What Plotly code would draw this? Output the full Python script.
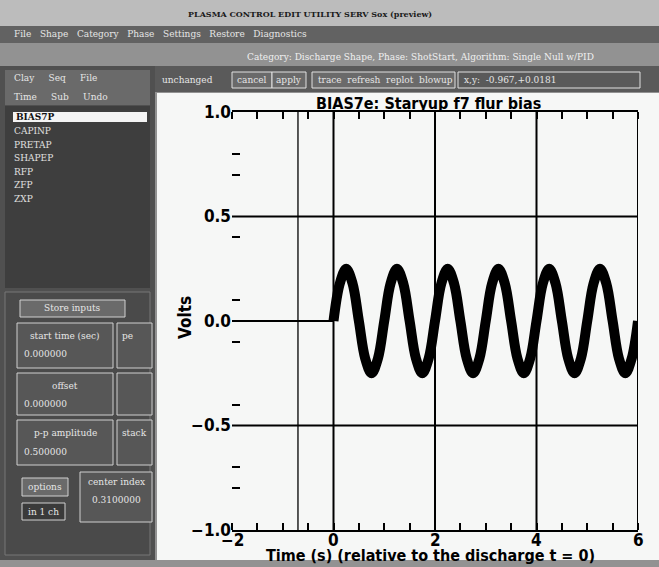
import plotly.graph_objects as go

# ---------------- data ----------------
pre_time = [-2.0, 0.0]
pre_volts = [0.0, 0.0]

wave_time = [0.0, 0.125, 0.25, 0.375, 0.5, 0.625, 0.75, 0.875,
             1.0, 1.125, 1.25, 1.375, 1.5, 1.625, 1.75, 1.875,
             2.0, 2.125, 2.25, 2.375, 2.5, 2.625, 2.75, 2.875,
             3.0, 3.125, 3.25, 3.375, 3.5, 3.625, 3.75, 3.875,
             4.0, 4.125, 4.25, 4.375, 4.5, 4.625, 4.75, 4.875,
             5.0, 5.125, 5.25, 5.375, 5.5, 5.625, 5.75, 5.875,
             6.0]
wave_volts = [0.0, 0.18, 0.25, 0.18, 0.0, -0.18, -0.25, -0.18,
              0.0, 0.18, 0.25, 0.18, 0.0, -0.18, -0.25, -0.18,
              0.0, 0.18, 0.25, 0.18, 0.0, -0.18, -0.25, -0.18,
              0.0, 0.18, 0.25, 0.18, 0.0, -0.18, -0.25, -0.18,
              0.0, 0.18, 0.25, 0.18, 0.0, -0.18, -0.25, -0.18,
              0.0, 0.18, 0.25, 0.18, 0.0, -0.18, -0.25, -0.18,
              0.0]

x_ticks = [-2, 0, 2, 4, 6]
x_ticktext = ["\u22122", "0", "2", "4", "6"]
y_ticks = [-1.0, -0.5, 0.0, 0.5, 1.0]
y_ticktext = ["\u22121.0", "\u22120.5", "0.0", "0.5", "1.0"]
y_minor = [-0.8, -0.7, -0.4, -0.1, 0.1, 0.4, 0.7, 0.8]
x_grid = [0, 2, 4]
y_grid = [-0.5, 0.5]
cursor_time = -0.7

title_text = "BIAS7e: Staryup f7 flur bias"
x_title = "Time (s) (relative to the discharge t = 0)"
y_title = "Volts"

# ---------------- geometry (pixels) ----------------
W, H = 659, 567
L, R, T, B = 232, 638, 112, 530


def px(x):
    return (x - L) / (R - L)


def py(y):
    return (B - y) / (B - T)


FONT = "DejaVu Sans Condensed, Liberation Sans Narrow, Arial Narrow, sans-serif"
GUI_FONT = "DejaVu Serif, Liberation Serif, serif"

fig = go.Figure()
fig.add_trace(go.Scatter(x=pre_time, y=pre_volts, mode="lines",
                         line=dict(color="black", width=2), hoverinfo="skip"))
fig.add_trace(go.Scatter(x=wave_time, y=wave_volts, mode="lines",
                         line=dict(color="black", width=10, shape="spline", smoothing=1.0),
                         hoverinfo="skip"))

shapes = []


def rect(x0, y0, x1, y1, fill, line=None, lw=0, layer="below"):
    shapes.append(dict(type="rect", xref="paper", yref="paper",
                       x0=px(x0), x1=px(x1), y0=py(y1), y1=py(y0),
                       fillcolor=fill, line=dict(color=line or fill, width=lw),
                       layer=layer))


# GUI chrome
rect(0, 0, W, 26, "#bcbcbc")
rect(0, 26, W, 43, "#626262")
rect(0, 43, W, 66, "#929292")
rect(150, 66, W, 92, "#5a5a5a")
rect(0, 66, 155, 560, "#505050")
rect(5, 70, 150, 105, "#6a6a6a")
rect(5, 106, 150, 288, "#3e3e3e")
rect(13, 112, 147, 122, "#f4f4f4")
rect(0, 560, W, H, "#929292")
rect(5, 292, 150, 555, "#4a4a4a", "#777777", 1)
rect(20, 300, 125, 317, "#6a6a6a", "#d0d0d0", 1)
rect(17, 323, 113, 368, "#575757", "#cfcfcf", 1)
rect(117, 323, 152, 368, "#575757", "#cfcfcf", 1)
rect(17, 373, 113, 415, "#575757", "#cfcfcf", 1)
rect(117, 373, 152, 415, "#575757", "#cfcfcf", 1)
rect(17, 420, 113, 465, "#575757", "#cfcfcf", 1)
rect(117, 420, 152, 465, "#575757", "#cfcfcf", 1)
rect(22, 478, 68, 496, "#6a6a6a", "#d0d0d0", 1)
rect(80, 472, 152, 522, "#575757", "#cfcfcf", 1)
rect(22, 503, 65, 520, "#3a3a3a", "#d0d0d0", 1)
rect(232, 72, 272, 88, "#6a6a6a", "#e0e0e0", 1)
rect(272, 72, 306, 88, "#6a6a6a", "#e0e0e0", 1)
rect(312, 72, 455, 88, "#6a6a6a", "#e0e0e0", 1)
rect(458, 72, 640, 88, "#5a5a5a", "#e0e0e0", 1)
# plot white area
rect(157, 93, W, 560, "#f6f7f6")

# grid lines and frame (data coords)
for gx in x_grid:
    shapes.append(dict(type="line", xref="x", yref="y", x0=gx, x1=gx, y0=-1, y1=1,
                       line=dict(color="black", width=2), layer="below"))
shapes.append(dict(type="line", xref="x", yref="y", x0=cursor_time, x1=cursor_time,
                   y0=-1, y1=1, line=dict(color="#222222", width=1.5), layer="below"))
for gy in y_grid:
    shapes.append(dict(type="line", xref="x", yref="y", x0=-2, x1=6, y0=gy, y1=gy,
                       line=dict(color="black", width=2), layer="below"))
shapes.append(dict(type="line", xref="x", yref="y", x0=6, x1=6, y0=-1, y1=1,
                   line=dict(color="black", width=2), layer="above"))

ann = []


def text(x, y, s, size=9, color="#e6e6e6", xanchor="left", family=GUI_FONT, bold=False):
    ann.append(dict(x=px(x), y=py(y), xref="paper", yref="paper", text=s,
                    showarrow=False, xanchor=xanchor, yanchor="middle",
                    font=dict(family=family, size=size, color=color,
                              weight="bold" if bold else "normal")))


text(310, 14, "PLASMA CONTROL EDIT UTILITY SERV Sox (preview)", 8, "#1a1a1a", "center", bold=True)
text(12, 34, "File   Shape   Category   Phase   Settings   Restore   Diagnostics", 9)
text(420, 57, "Category: Discharge Shape, Phase: ShotStart, Algorithm: Single Null w/PID", 9, "#f0f0f0", "center")
text(160, 80, "unchanged", 9)
text(252, 80, "cancel", 9, xanchor="center")
text(289, 80, "apply", 9, xanchor="center")
text(316, 80, "trace  refresh  replot  blowup", 9)
text(462, 80, "x,y:  -0.967,+0.0181", 9)
text(12, 78, "Clay     Seq     File", 9)
text(12, 97, "Time     Sub     Undo", 9)
text(14, 117, "BIAS7P", 9, "#111111", bold=True)
for i, nm in enumerate(["CAPINP", "PRETAP", "SHAPEP", "RFP", "ZFP", "ZXP"]):
    text(12, 131 + i * 13.5, nm, 9, "#e0e0e0")
text(72, 308, "Store inputs", 9, xanchor="center")
text(65, 336, "start time (sec)", 9, xanchor="center")
text(22, 354, "0.000000", 9)
text(120, 336, "pe", 9)
text(65, 386, "offset", 9, xanchor="center")
text(22, 404, "0.000000", 9)
text(65, 433, "p-p amplitude", 9, xanchor="center")
text(22, 452, "0.500000", 9)
text(120, 433, "stack", 9)
text(45, 487, "options", 9, xanchor="center")
text(116, 482, "center index", 9, xanchor="center")
text(116, 500, "0.3100000", 9, xanchor="center")
text(26, 512, "in 1 ch", 9)

# chart texts
bold_font = lambda s: dict(family=FONT, size=s, color="black", weight="bold")
ann.append(dict(x=px(428), y=py(103), xref="paper", yref="paper", text=title_text,
                showarrow=False, xanchor="center", yanchor="middle", font=bold_font(16)))
ann.append(dict(x=px(430), y=py(555), xref="paper", yref="paper", text=x_title,
                showarrow=False, xanchor="center", yanchor="middle", font=bold_font(16)))
ann.append(dict(x=px(185), y=py(318), xref="paper", yref="paper", text=y_title,
                showarrow=False, xanchor="center", yanchor="middle", textangle=-90,
                font=bold_font(17)))
# x tick labels placed through the x axis scale, tucked just under the axis line
for v, s in zip(x_ticks, x_ticktext):
    ann.append(dict(x=v, y=py(540), xref="x", yref="paper", text=s, showarrow=False,
                    xanchor="center", yanchor="middle", font=bold_font(17)))

fig.update_layout(
    width=W, height=H,
    margin=dict(l=L, r=W - R, t=T, b=H - B),
    paper_bgcolor="#929292", plot_bgcolor="#f6f7f6",
    showlegend=False,
    shapes=shapes, annotations=ann,
    xaxis=dict(range=[-2, 6], tickmode="array", tickvals=x_ticks, ticktext=x_ticktext,
               showticklabels=False,
               showgrid=False, zeroline=False, showline=True, linecolor="black", linewidth=2,
               ticks="", mirror="allticks",
               minor=dict(tick0=-2, dtick=0.5, ticks="inside", ticklen=7, tickwidth=2,
                          tickcolor="black", showgrid=False)),
    yaxis=dict(range=[-1, 1], tickmode="array", tickvals=y_ticks, ticktext=y_ticktext,
               showgrid=False, zeroline=False, showline=False,
               ticks="", tickfont=bold_font(17), mirror="allticks",
               minor=dict(tickmode="array", tickvals=y_minor, ticks="inside", ticklen=8,
                          tickwidth=2, tickcolor="black", showgrid=False)),
)

fig.write_html("out.html", config={"displayModeBar": False},
               post_script="document.body.style.margin='0';document.body.style.overflow='hidden';")
